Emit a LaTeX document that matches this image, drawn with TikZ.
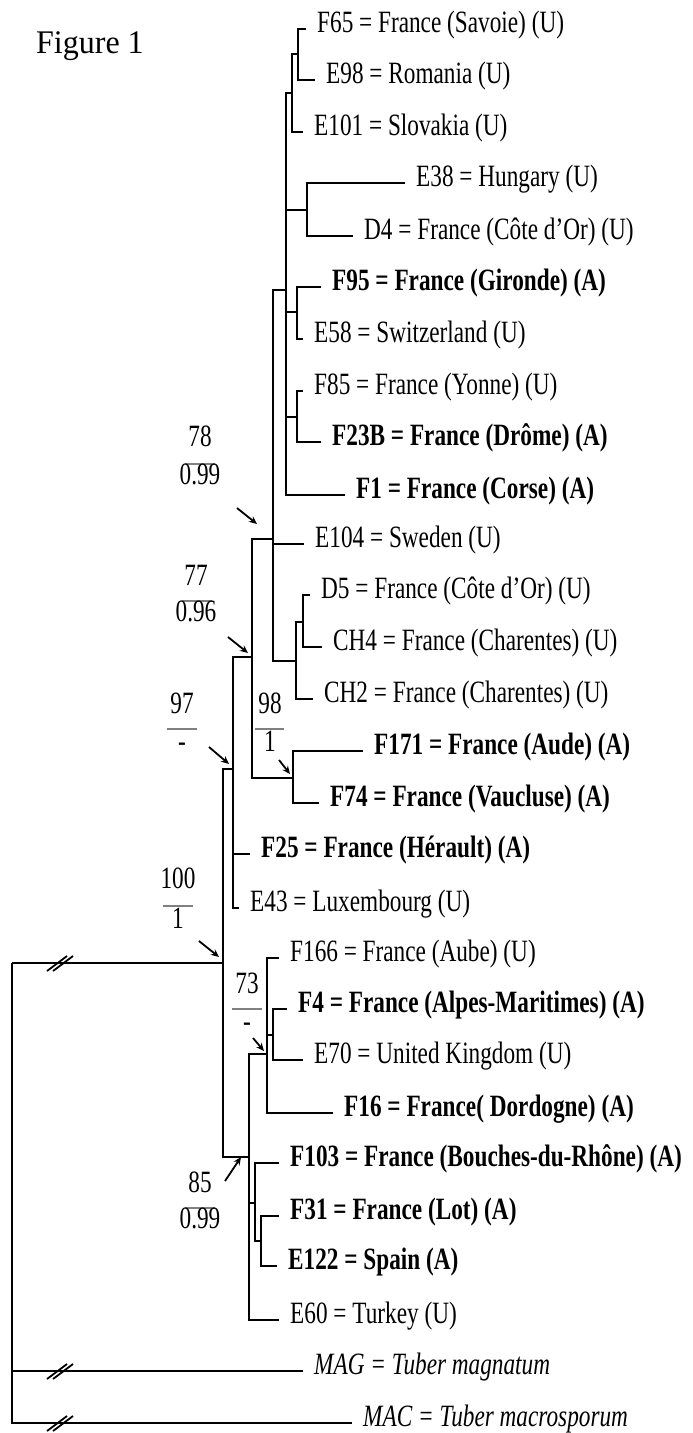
\documentclass[tikz,border=0pt]{standalone}
\usepackage{fontspec}
\setmainfont{Liberation Serif}
\newfontfamily\labfont[FakeStretch=0.75]{Liberation Serif}
\newfontfamily\figfont[FakeStretch=0.97]{Liberation Serif}
\usetikzlibrary{arrows.meta}
\begin{document}
\begin{tikzpicture}[x=1pt,y=-1pt,
  br/.style={line width=2.5pt},
  lab/.style={anchor=west, inner xsep=11pt, inner ysep=0pt, text height=0.66em, text depth=0pt, font=\labfont\fontsize{31}{31}\selectfont},
  blab/.style={lab, font=\labfont\bfseries\fontsize{31}{31}\selectfont},
  ilab/.style={lab, font=\labfont\itshape\fontsize{31}{31}\selectfont},
  sup/.style={inner sep=0pt, text height=0.66em, text depth=0pt, font=\labfont\fontsize{31}{31}\selectfont},
  supline/.style={draw=gray, line width=1.6pt},
  arr/.style={line width=1.8pt, -{Stealth[length=8pt,width=7pt]}},
  brk/.style={line width=1.8pt},
]
\useasboundingbox[fill=white] (0,0) rectangle (693,1433);

\node[anchor=base west, inner sep=0pt, font=\figfont\fontsize{33}{33}\selectfont] (title) at (36,53) {Figure 1};

% leaves
\node[lab]  (F65)  at (306,29)   {F65 = France (Savoie) (U)};
\node[lab]  (E98)  at (315,80)   {E98 = Romania (U)};
\node[lab]  (E101) at (303,132)  {E101 = Slovakia (U)};
\node[lab]  (E38)  at (405,183)  {E38 = Hungary (U)};
\node[lab]  (D4)   at (353,236)  {D4 = France (Côte d’Or) (U)};
\node[blab] (F95)  at (321,287)  {F95 = France (Gironde) (A)};
\node[lab]  (E58)  at (303,339)  {E58 = Switzerland (U)};
\node[lab]  (F85)  at (303,391)  {F85 = France (Yonne) (U)};
\node[blab] (F23B) at (321,442)  {F23B = France (Drôme) (A)};
\node[blab] (F1)   at (345,495)  {F1 = France (Corse) (A)};
\node[lab]  (E104) at (304,544)  {E104 = Sweden (U)};
\node[lab]  (D5)   at (310,595)  {D5 = France (Côte d’Or) (U)};
\node[lab]  (CH4)  at (322,647)  {CH4 = France (Charentes) (U)};
\node[lab]  (CH2)  at (313,699)  {CH2 = France (Charentes) (U)};
\node[blab] (F171) at (363,751)  {F171 = France (Aude) (A)};
\node[blab] (F74)  at (319,803)  {F74 = France (Vaucluse) (A)};
\node[blab] (F25)  at (250,854)  {F25 = France (Hérault) (A)};
\node[lab]  (E43)  at (239,908)  {E43 = Luxembourg (U)};
\node[lab]  (F166) at (279,958)  {F166 = France (Aube) (U)};
\node[blab] (F4)   at (287,1009) {F4 = France (Alpes-Maritimes) (A)};
\node[lab]  (E70)  at (303,1060) {E70 = United Kingdom (U)};
\node[blab] (F16)  at (333,1113) {F16 = France( Dordogne) (A)};
\node[blab] (F103) at (279,1163) {F103 = France (Bouches-du-Rhône) (A)};
\node[blab] (F31)  at (279,1216) {F31 = France (Lot) (A)};
\node[blab] (E122) at (277,1266) {E122 = Spain (A)};
\node[lab]  (E60)  at (279,1320) {E60 = Turkey (U)};
\node[ilab] (MAG)  at (303,1371) {MAG = Tuber magnatum};
\node[ilab] (MAC)  at (352,1423) {MAC = Tuber macrosporum};

% internal nodes
\coordinate (a) at (298,54);
\coordinate (b) at (292,93);
\coordinate (c) at (307,210);
\coordinate (d) at (297,312);
\coordinate (e) at (297,417);
\coordinate (f) at (286,290);
\coordinate (i) at (303,622);
\coordinate (h) at (296,661);
\coordinate (g) at (273,539);
\coordinate (j) at (293,778);
\coordinate (k) at (252,657);
\coordinate (l) at (233,769);
\coordinate (m) at (273,1035);
\coordinate (n) at (267,1054);
\coordinate (o) at (261,1241);
\coordinate (p) at (255,1203);
\coordinate (q) at (249,1157);
\coordinate (r) at (223,963);
\coordinate (root) at (12,963);

% branches
\draw[br] (a) |- (F65.west);  \draw[br] (a) |- (E98.west);
\draw[br] (b) |- (a);         \draw[br] (b) |- (E101.west);
\draw[br] (c) |- (E38.west);  \draw[br] (c) |- (D4.west);
\draw[br] (d) |- (F95.west);  \draw[br] (d) |- (E58.west);
\draw[br] (e) |- (F85.west);  \draw[br] (e) |- (F23B.west);
\draw[br] (f) |- (b); \draw[br] (f) |- (c); \draw[br] (f) |- (d); \draw[br] (f) |- (e); \draw[br] (f) |- (F1.west);
\draw[br] (i) |- (D5.west);   \draw[br] (i) |- (CH4.west);
\draw[br] (h) |- (i);         \draw[br] (h) |- (CH2.west);
\draw[br] (g) |- (f); \draw[br] (g) |- (E104.west); \draw[br] (g) |- (h);
\draw[br] (j) |- (F171.west); \draw[br] (j) |- (F74.west);
\draw[br] (k) |- (g);         \draw[br] (k) |- (j);
\draw[br] (l) |- (k); \draw[br] (l) |- (F25.west); \draw[br] (l) |- (E43.west);
\draw[br] (m) |- (F4.west);   \draw[br] (m) |- (E70.west);
\draw[br] (n) |- (F166.west); \draw[br] (n) |- (m); \draw[br] (n) |- (F16.west);
\draw[br] (o) |- (F31.west);  \draw[br] (o) |- (E122.west);
\draw[br] (p) |- (F103.west); \draw[br] (p) |- (o);
\draw[br] (q) |- (n); \draw[br] (q) |- (p); \draw[br] (q) |- (E60.west);
\draw[br] (r) |- (l);         \draw[br] (r) |- (q);
\draw[br] (root) -- (r); \draw[br] (root) |- (MAG.west); \draw[br] (root) |- (MAC.west);

% break marks
\foreach \yy/\nm in {963/bA,1371/bB,1423/bC}{
  \coordinate (\nm) at (60,\yy);
  \draw[brk] ([shift={(-13,8)}]\nm) -- ([shift={(7,-7)}]\nm);
  \draw[brk] ([shift={(-7,8)}]\nm) -- ([shift={(13,-7)}]\nm);
}

% support values
\node[sup] (s78t) at (200,443) {78};   \draw[supline] (185,464) -- (215,464);  \node[sup] (s78b) at (200,481) {0.99};
\node[sup] (s77t) at (196,582) {77};   \draw[supline] (182,601) -- (212,601);  \node[sup] (s77b) at (196,618) {0.96};
\node[sup] (s97t) at (182,710) {97};   \draw[supline] (167,729) -- (197,729);  \node[sup] (s97b) at (182,748) {-};
\node[sup] (s98t) at (270,710) {98};   \draw[supline] (255,729) -- (284,729);  \node[sup] (s98b) at (270,748) {1};
\node[sup] (s100t) at (178,885) {100}; \draw[supline] (163,906) -- (193,906);  \node[sup] (s100b) at (178,925) {1};
\node[sup] (s73t) at (247,990) {73};   \draw[supline] (232,1009) -- (262,1009); \node[sup] (s73b) at (247,1028) {-};
\node[sup] (s85t) at (200,1189) {85};  \draw[supline] (185,1208) -- (215,1208); \node[sup] (s85b) at (200,1225) {0.99};

% arrows
\coordinate (a78s) at (237,508);  \coordinate (a78e) at (257,524);
\coordinate (a77s) at (228,637);  \coordinate (a77e) at (248,653);
\coordinate (a97s) at (209,747);  \coordinate (a97e) at (229,764);
\coordinate (a98s) at (279,760);  \coordinate (a98e) at (290,774);
\coordinate (a100s) at (199,941); \coordinate (a100e) at (219,957);
\coordinate (a73s) at (253,1038); \coordinate (a73e) at (264,1051);
\coordinate (a85s) at (225,1181); \coordinate (a85e) at (241,1157);
\draw[arr] (a78s) -- (a78e);
\draw[arr] (a77s) -- (a77e);
\draw[arr] (a97s) -- (a97e);
\draw[arr] (a98s) -- (a98e);
\draw[arr] (a100s) -- (a100e);
\draw[arr] (a73s) -- (a73e);
\draw[arr] (a85s) -- (a85e);
\end{tikzpicture}
\end{document}
